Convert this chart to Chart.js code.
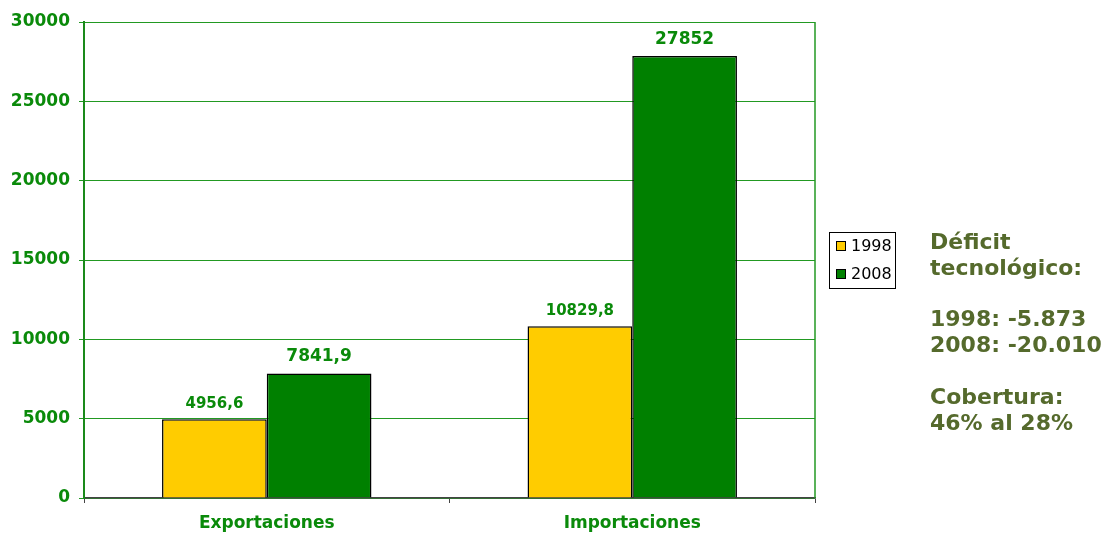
<!DOCTYPE html>
<html>
<head>
<meta charset="utf-8">
<script src="https://cdn.jsdelivr.net/npm/chart.js@4.4.1/dist/chart.umd.min.js"></script>
<style>
  html, body { margin: 0; padding: 0; background: #ffffff; }
  #wrap { position: relative; width: 1101px; height: 534px; }
</style>
</head>
<body>
<div id="wrap"><canvas id="tradeChart" width="1101" height="534"></canvas></div>
<script>
// Datos
const categorias = ["Exportaciones", "Importaciones"];
const anios = ["1998", "2008"];
const valores1998 = [4956.6, 10829.8];
const valores2008 = [7841.9, 27852];
const etiquetas1998 = ["4956,6", "10829,8"];
const etiquetas2008 = ["7841,9", "27852"];
const notas = ["Déficit", "tecnológico:", "", "1998: -5.873", "2008: -20.010", "", "Cobertura:", "46% al 28%"];

const verde = "#008000";
const amarillo = "#FFCC00";
const textoVerde = "#0a8a0a";

// Etiquetas de valor sobre las barras
const valueLabels = {
    id: "valueLabels",
    afterDatasetsDraw(chart) {
        const ctx = chart.ctx;
        const textos = [etiquetas1998, etiquetas2008];
        const tamanos = [15, 17];
        chart.data.datasets.forEach((ds, i) => {
            const meta = chart.getDatasetMeta(i);
            meta.data.forEach((bar, j) => {
                ctx.save();
                ctx.font = "bold " + tamanos[i] + "px 'DejaVu Sans', sans-serif";
                ctx.fillStyle = textoVerde;
                ctx.textAlign = "center";
                ctx.textBaseline = "bottom";
                ctx.fillText(textos[i][j], bar.x, bar.y - 8);
                ctx.restore();
            });
        });
    },
};

// Borde derecho, leyenda y notas
const extras = {
    id: "extras",
    afterDraw(chart) {
        const ctx = chart.ctx;
        const area = chart.chartArea;
        ctx.save();
        ctx.strokeStyle = "#229922";
        ctx.lineWidth = 1.5;
        ctx.beginPath();
        ctx.moveTo(area.right, area.top);
        ctx.lineTo(area.right, area.bottom);
        ctx.stroke();

        // leyenda
        ctx.strokeStyle = "#000";
        ctx.lineWidth = 1;
        ctx.strokeRect(829.5, 232.5, 66, 56);
        chart.data.datasets.forEach((ds, i) => {
            const y = 246 + i * 28;
            ctx.fillStyle = ds.backgroundColor;
            ctx.fillRect(836, y - 5, 9, 9);
            ctx.strokeRect(836.5, y - 4.5, 9, 9);
            ctx.fillStyle = "#000";
            ctx.font = "16px 'DejaVu Sans', sans-serif";
            ctx.textAlign = "left";
            ctx.textBaseline = "middle";
            ctx.fillText(ds.label, 851, y + 1);
        });

        // notas
        ctx.fillStyle = "#556a2c";
        ctx.font = "bold 22px 'DejaVu Sans', sans-serif";
        ctx.textBaseline = "middle";
        notas.forEach((linea, k) => {
            ctx.fillText(linea, 930, 243 + k * 25.9);
        });
        ctx.restore();
    },
};

const tradeCtx = document.getElementById("tradeChart").getContext("2d");
const tradeChart = new Chart(tradeCtx, {
    type: "bar",
    data: {
        labels: categorias,
        datasets: [
            {
                label: anios[0],
                data: valores1998,
                backgroundColor: amarillo,
                borderColor: "#000000",
                borderWidth: 1.5,
            },
            {
                label: anios[1],
                data: valores2008,
                backgroundColor: verde,
                borderColor: "#000000",
                borderWidth: 1.5,
            },
        ],
    },
    options: {
        responsive: false,
        animation: false,
        layout: {
            padding: { top: 22, right: 286, left: 0, bottom: 0 },
        },
        datasets: {
            bar: {
                categoryPercentage: 0.573,
                barPercentage: 1,
            },
        },
        plugins: {
            legend: { display: false },
            tooltip: { enabled: false },
        },
        scales: {
            x: {
                afterFit(scale) { scale.height = 36; },
                grid: {
                    offset: true,
                    drawOnChartArea: false,
                    drawTicks: true,
                    tickLength: 5,
                    tickColor: "#444",
                },
                border: { color: "#444", width: 1.5 },
                ticks: {
                    color: textoVerde,
                    padding: 10,
                    font: { size: 17, weight: "bold", family: "'DejaVu Sans', sans-serif" },
                },
            },
            y: {
                min: 0,
                max: 30000,
                afterFit(scale) { scale.width = 84; },
                grid: {
                    color: "#229922",
                    lineWidth: 1,
                    tickLength: 5,
                },
                border: { color: "#1a8a1a", width: 2 },
                ticks: {
                    stepSize: 5000,
                    color: textoVerde,
                    padding: 9,
                    callback: (v) => String(v),
                    font: { size: 17, weight: "bold", family: "'DejaVu Sans', sans-serif" },
                },
            },
        },
    },
    plugins: [valueLabels, extras],
});
</script>
</body>
</html>
